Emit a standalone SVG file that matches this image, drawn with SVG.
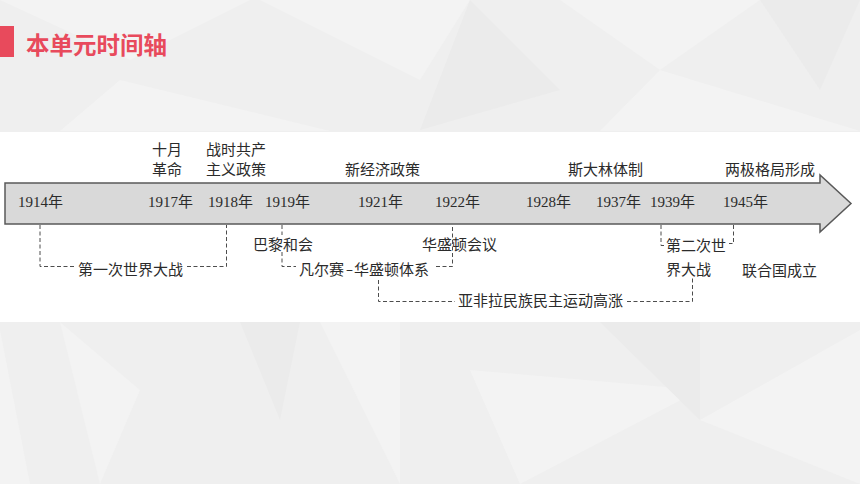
<svg xmlns="http://www.w3.org/2000/svg" width="860" height="484" viewBox="0 0 860 484">
<style>
.t{font-family:"Liberation Serif","Noto Sans CJK SC",serif;font-size:15px;fill:#2b2b2b}
.d{fill:none;stroke:#4d4d4d;stroke-width:1;stroke-dasharray:4 2.5}
.bg{fill:#f3f3f3}
.bg2{fill:#ebebeb}
</style>
<rect x="0" y="0" width="860" height="484" fill="#efefef"/>
<g id="background">
<polygon class="bg" points="0,0 250,0 130,60"/>
<polygon class="bg" points="260,0 470,0 420,80"/>
<polygon class="bg2" points="470,0 560,90 420,130"/>
<polygon class="bg" points="560,0 760,0 660,70"/>
<polygon class="bg2" points="760,0 860,0 820,90"/>
<polygon class="bg" points="120,80 330,131 60,131"/>
<polygon class="bg" points="660,70 860,131 600,131"/>
<polygon class="bg" points="0,330 30,484 0,484"/>
<polygon class="bg" points="60,322 140,390 100,484"/>
<polygon class="bg2" points="240,322 300,322 280,420"/>
<polygon class="bg" points="320,322 400,322 400,484"/>
<polygon class="bg" points="470,370 700,390 520,484"/>
<polygon class="bg2" points="600,322 700,322 700,420"/>
<polygon class="bg" points="700,420 860,330 860,484"/>
</g>
<rect x="0" y="132" width="860" height="190" fill="#ffffff"/>
<g id="title">
<rect x="0" y="26" width="14" height="31" fill="#e84a5c"/>
<text x="26" y="54" font-family="Noto Sans CJK SC, sans-serif" font-size="23.5" font-weight="bold" fill="#e84a5c">本单元时间轴</text>
</g>
<g id="timeline">
<polygon points="5,183 820,183 820,175 851,203.5 820,232 820,224 5,224" fill="#d9d9d9" stroke="#595959" stroke-width="1.5"/>
</g>
<g id="years">
<text class="t" x="18" y="207">1914年</text>
<text class="t" x="148" y="207">1917年</text>
<text class="t" x="208" y="207">1918年</text>
<text class="t" x="265" y="207">1919年</text>
<text class="t" x="358" y="207">1921年</text>
<text class="t" x="435" y="207">1922年</text>
<text class="t" x="526" y="207">1928年</text>
<text class="t" x="596" y="207">1937年</text>
<text class="t" x="650" y="207">1939年</text>
<text class="t" x="723" y="207">1945年</text>
</g>
<g id="october-revolution"><text class="t" x="152" y="155">十月</text><text class="t" x="152" y="175">革命</text></g>
<g id="war-communism"><text class="t" x="206" y="155">战时共产</text><text class="t" x="206" y="175">主义政策</text></g>
<g id="nep"><text class="t" x="345" y="175">新经济政策</text></g>
<g id="stalin"><text class="t" x="568" y="175">斯大林体制</text></g>
<g id="bipolar"><text class="t" x="725" y="175">两极格局形成</text></g>
<g id="paris"><text class="t" x="253" y="250">巴黎和会</text></g>
<g id="washington"><text class="t" x="422" y="250">华盛顿会议</text></g>
<g id="ww1"><text class="t" x="78" y="275">第一次世界大战</text></g>
<g id="versailles"><text class="t" x="299" y="275">凡尔赛<tspan x="346" font-family="Noto Sans CJK SC, sans-serif" textLength="7" lengthAdjust="spacingAndGlyphs">–</tspan><tspan x="354">华盛顿体系</tspan></text></g>
<g id="ww2"><text class="t" x="666" y="251">第二次世</text><text class="t" x="666" y="275">界大战</text></g>
<g id="un"><text class="t" x="742" y="276">联合国成立</text></g>
<g id="afro-asian"><text class="t" x="458" y="306">亚非拉民族民主运动高涨</text></g>
<g id="connectors">
<path class="d" d="M40,225 V266.5 H75"/>
<path class="d" d="M187,266.5 H226.5 V225"/>
<path class="d" d="M282,225 V235"/>
<path class="d" d="M282,252 V266.5 H296"/>
<path class="d" d="M436,266.5 H452.5 V225"/>
<path class="d" d="M378.5,280 V301.5 H455"/>
<path class="d" d="M627,301.5 H692.5 V278"/>
<path class="d" d="M661,225 V245.5 H665"/>
<path class="d" d="M733.5,225 V243.5 H729"/>
</g>
</svg>
